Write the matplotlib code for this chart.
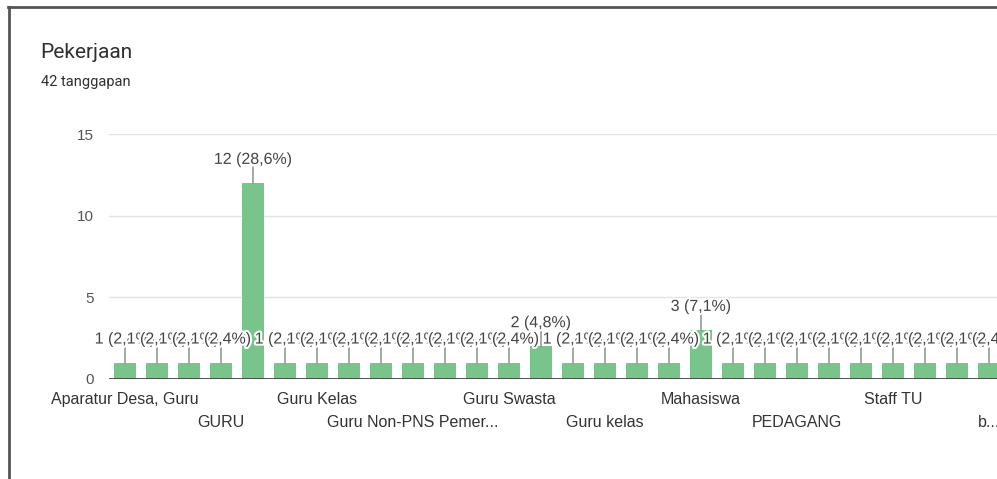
import numpy as np
import matplotlib.pyplot as plt
from matplotlib import patheffects
from matplotlib.lines import Line2D

# Pekerjaan responden (42 tanggapan)
categories = ["Aparatur Desa, Guru", "", "", "GURU", "", "", "Guru Kelas", "", "",
              "Guru Non-PNS Pemer...", "", "", "Guru Swasta", "", "", "Guru kelas", "", "",
              "Mahasiswa", "", "", "PEDAGANG", "", "", "Staff TU", "", "", "b..."]
counts = [1, 1, 1, 1, 12, 1, 1, 1, 1, 1, 1, 1, 1, 2,
          1, 1, 1, 1, 3, 1, 1, 1, 1, 1, 1, 1, 1, 1]
total = 42
yticks = [0, 5, 10, 15]

W, H = 997, 479
fig = plt.figure(figsize=(W / 100, H / 100), dpi=100)
fig.patch.set_facecolor("white")

chart_font = ["Liberation Sans", "DejaVu Sans"]

# card frame (left and top edges only are visible)
fig.add_artist(Line2D([8.5 / W, 8.5 / W], [0, 1 - 6.5 / H], color="#555555", lw=2))
fig.add_artist(Line2D([8 / W, 1], [1 - 6.5 / H, 1 - 6.5 / H], color="#555555", lw=2))

fig.text(40 / W, 1 - 52 / H, "Pekerjaan", fontsize=15, family=["Roboto", "DejaVu Sans"],
         color="#303030", va="center", ha="left")
fig.text(41 / W, 1 - 82 / H, "42 tanggapan", fontsize=10.5, family=["Roboto", "DejaVu Sans"],
         color="#303030", va="center", ha="left")

n = len(counts)
left_px, step = 109, 32
ax = fig.add_axes([left_px / W, 100 / H, n * step / W, 245 / H])
x = np.arange(n)
ax.bar(x, counts, width=0.69, color="#78c48b", zorder=2)

ax.set_xlim(-0.5, n - 0.5)
ax.set_ylim(0, 15)
ax.set_yticks(yticks)
ax.yaxis.grid(True, color="#e3e3e3", lw=1, zorder=0)
ax.set_axisbelow(True)
ax.axhline(0, color="#444444", lw=1.3, zorder=3)
for s in ax.spines.values():
    s.set_visible(False)
ax.tick_params(axis="y", length=0, pad=11, labelsize=11, labelcolor="#555555")
for t in ax.get_yticklabels():
    t.set_family(chart_font)

# category labels staggered on two rows
labelled = [i for i, c in enumerate(categories) if c]
row1 = labelled[0::2]
row2 = labelled[1::2]
ax.set_xticks(row1)
ax.set_xticklabels([categories[i] for i in row1])
ax.set_xticks(row2, minor=True)
ax.set_xticklabels([categories[i] for i in row2], minor=True)
ax.tick_params(axis="x", which="major", length=0, pad=9.5, labelsize=11.5, labelcolor="#333333")
ax.tick_params(axis="x", which="minor", length=0, pad=26, labelsize=11.5, labelcolor="#333333")
for t in ax.get_xticklabels() + ax.get_xticklabels(minor=True):
    t.set_family(chart_font)

# leader lines then value labels (later labels sit over earlier ones)
for i, v in enumerate(counts):
    ax.annotate("", xy=(i, v), xytext=(0, 11.5), textcoords="offset points",
                arrowprops=dict(arrowstyle="-", color="#666666", lw=0.8,
                                shrinkA=0, shrinkB=0), zorder=4)
for i, v in enumerate(counts):
    pct = f"{v / total * 100:.1f}".replace(".", ",")
    ax.annotate(f"{v} ({pct}%)", xy=(i, v), xytext=(0, 17), textcoords="offset points",
                ha="center", va="center", fontsize=11.5, family=chart_font,
                color="#444444", zorder=5,
                path_effects=[patheffects.withStroke(linewidth=3, foreground="white")])

fig.savefig("out.png", dpi=100)
